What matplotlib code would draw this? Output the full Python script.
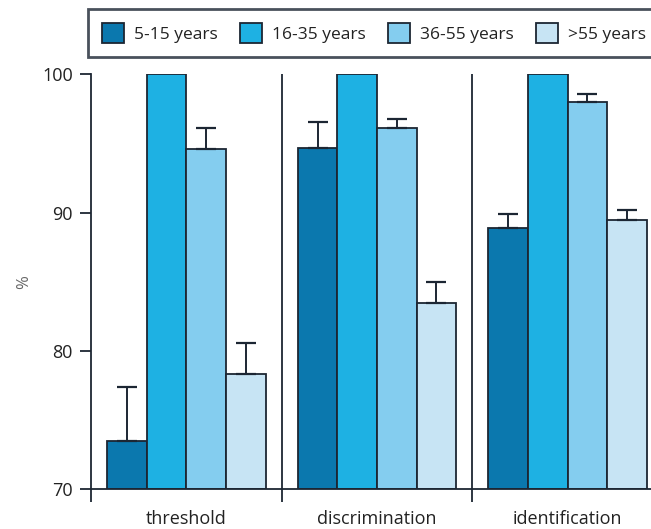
import matplotlib
matplotlib.use("Agg")
import matplotlib.pyplot as plt
import numpy as np

categories = ["threshold", "discrimination", "identification"]
groups = ["5-15 years", "16-35 years", "36-55 years", ">55 years"]
values = {
    "5-15 years":  [73.5, 94.7, 88.9],
    "16-35 years": [100.0, 100.0, 100.0],
    "36-55 years": [94.6, 96.1, 98.0],
    ">55 years":   [78.3, 83.5, 89.5],
}
errors = {
    "5-15 years":  [3.9, 1.85, 1.0],
    "16-35 years": [0.0, 0.0, 0.0],
    "36-55 years": [1.55, 0.65, 0.6],
    ">55 years":   [2.3, 1.45, 0.7],
}
yticks = [70, 80, 90, 100]
colors = ["#0b78ae", "#1eb1e3", "#84cdef", "#c7e4f4"]
edge = "#1c2633"

plt.rcParams['font.family'] = ['Open Sans', 'DejaVu Sans']
fig = plt.figure(figsize=(6.51, 5.29), dpi=100)
W, H = 651, 529
ax = fig.add_axes([91 / W, (H - 489.3) / H, 572 / W, 415 / H])

x = np.arange(len(categories))
w = 0.208
base = 70
for i, g in enumerate(groups):
    v = np.array(values[g])
    e = np.array(errors[g])
    ax.bar(x + (i - 1.5) * w, v - base, bottom=base, width=w, color=colors[i],
           edgecolor=edge, linewidth=1.3, label=g, zorder=2)
    if e.any():
        ax.errorbar(x + (i - 1.5) * w, v, yerr=[np.zeros_like(e), e], fmt='none',
                    ecolor=edge, elinewidth=1.4, capsize=7.5, capthick=1.6, zorder=3)

for s in [0.5, 1.5]:
    ax.axvline(s, color=edge, lw=1.3, zorder=1)

ax.set_xlim(-0.5, 2.5)
ax.set_ylim(70, 100)
ax.spines['top'].set_visible(False)
ax.spines['right'].set_visible(False)
for sp in ['left', 'bottom']:
    ax.spines[sp].set_linewidth(1.3)
    ax.spines[sp].set_color(edge)

ax.set_xticks([-0.5, 0.5, 1.5, 2.5])
ax.set_xticklabels([])
ax.tick_params(axis='x', which='major', direction='out', length=9.5, width=1.3, color=edge)
ax.set_xticks(x, minor=True)
ax.set_xticklabels(categories, minor=True, fontsize=13, color="#222222")
ax.tick_params(axis='x', which='minor', length=0, pad=15)

ax.set_yticks(yticks)
ax.set_yticklabels([str(t) for t in yticks], fontsize=13, color="#222222")
ax.tick_params(axis='y', direction='out', length=8, width=1.3, color=edge, pad=5)
ax.set_ylabel("%", fontsize=12, color="#666666", labelpad=7)

leg = fig.legend(loc='upper left', bbox_to_anchor=(88 / W, 1 - 9.3 / H), ncol=4,
                 fontsize=12.5, frameon=True, fancybox=False, borderaxespad=0,
                 handlelength=1.3, handleheight=1.35, handletextpad=0.55,
                 columnspacing=1.27, borderpad=0.8)
fr = leg.get_frame()
fr.set_edgecolor(edge)
fr.set_linewidth(2)
for t in leg.get_texts():
    t.set_color("#222222")
for p in leg.get_patches():
    p.set_edgecolor(edge)
    p.set_linewidth(1.3)

fig.savefig("out.png", dpi=100)
